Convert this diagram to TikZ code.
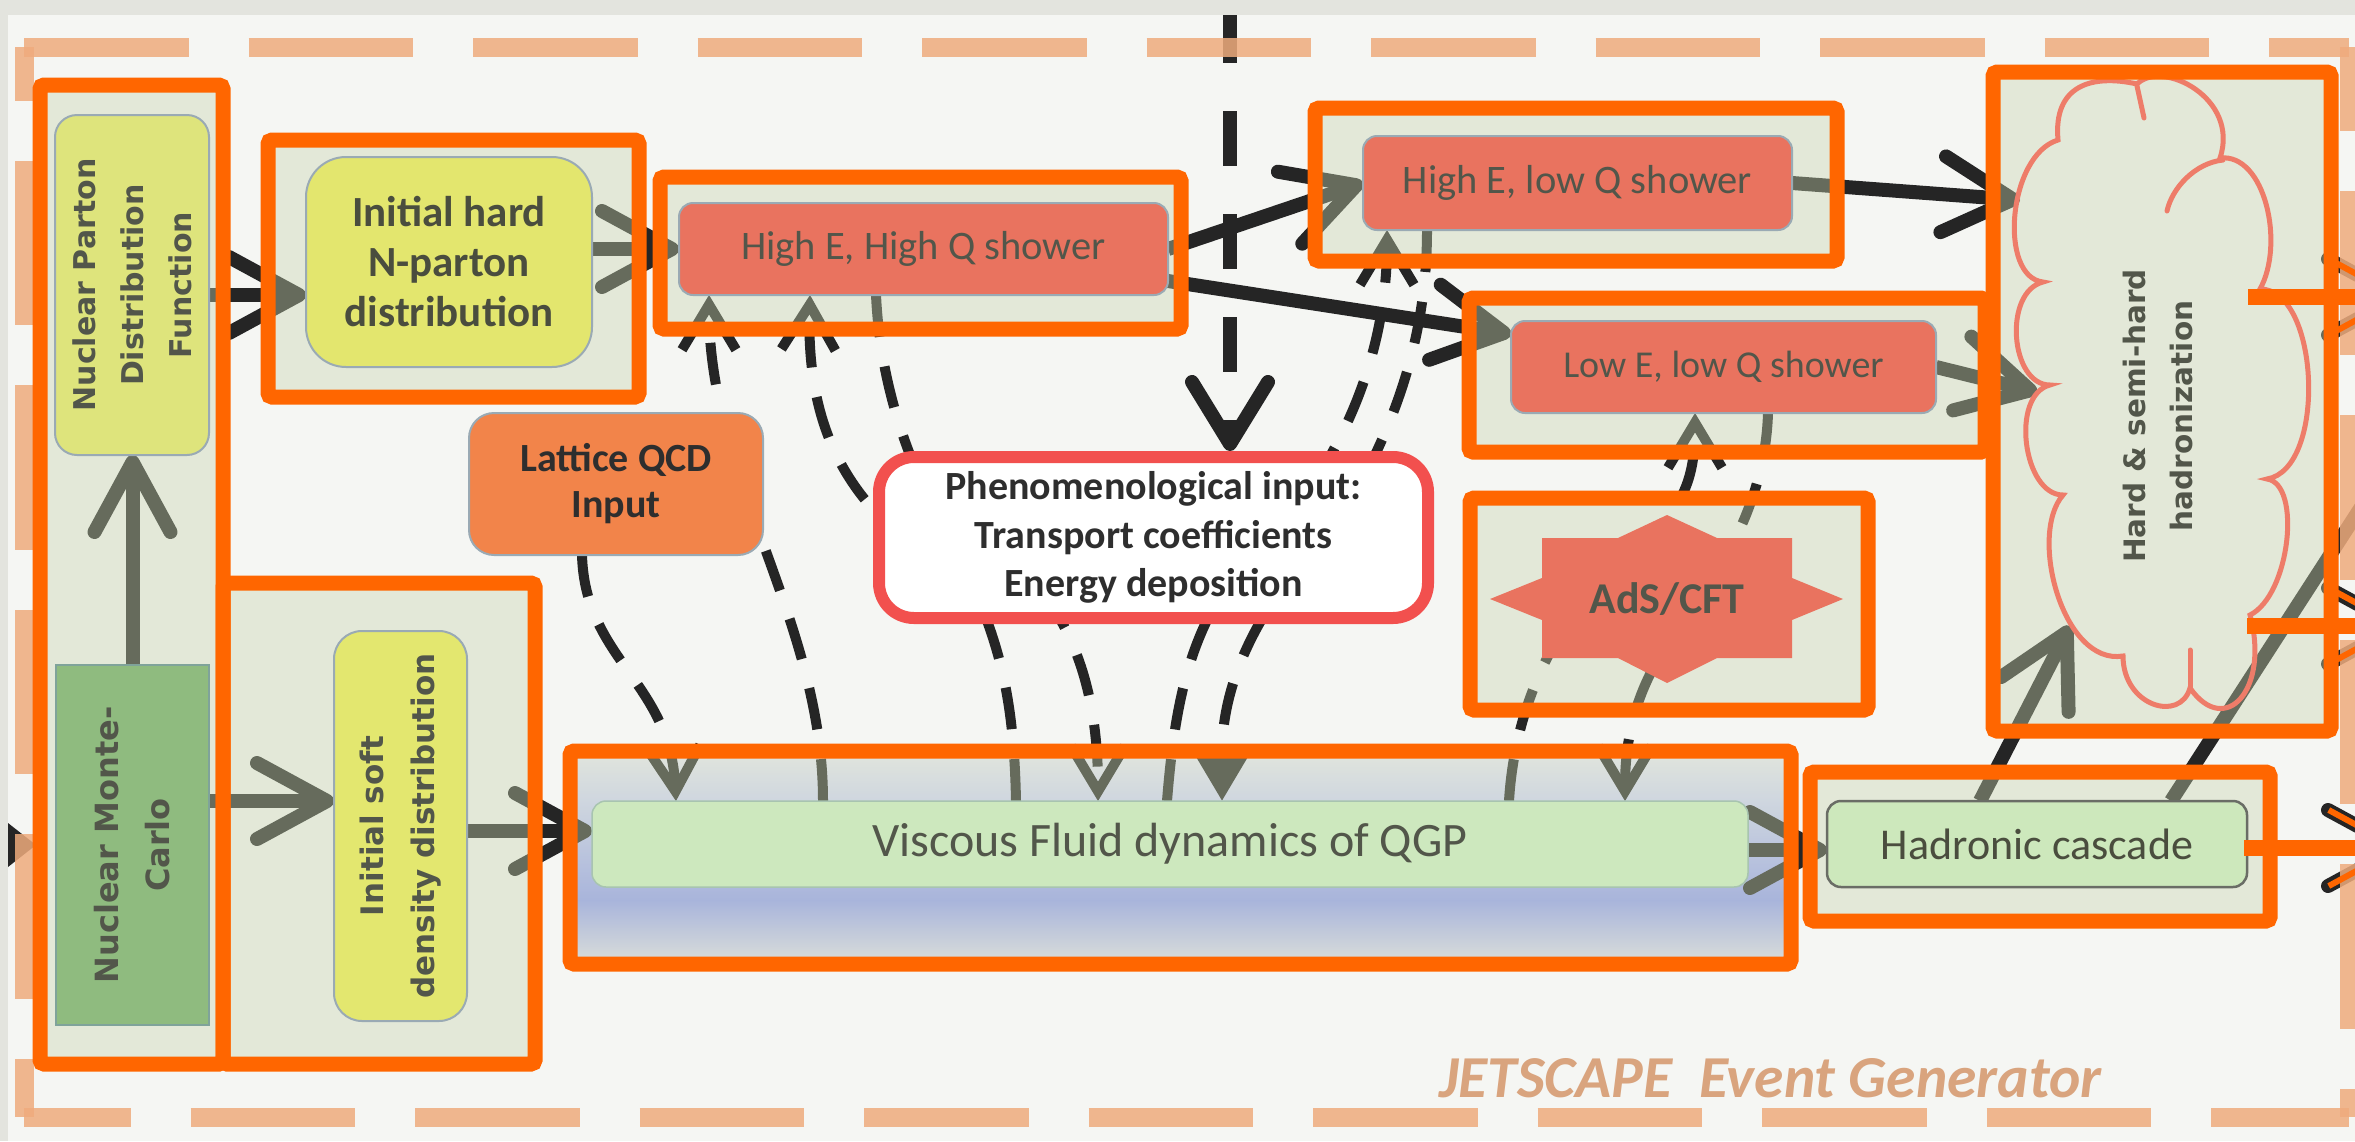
\documentclass[tikz,border=0pt]{standalone}
\usepackage{fontspec}
\setmainfont{Carlito}
\newfontfamily\verd{DejaVu Sans}
\usetikzlibrary{arrows.meta,calc}
\definecolor{bgc}{HTML}{F5F6F3}
\definecolor{stripc}{HTML}{E3E4DE}
\definecolor{peach}{HTML}{EFAB7D}
\definecolor{orng}{HTML}{FF6600}
\definecolor{modc}{HTML}{C8D4B0}
\definecolor{npdfc}{HTML}{DEE47C}
\definecolor{ihardc}{HTML}{E3E66E}
\definecolor{isoftc}{HTML}{E3E76F}
\definecolor{nmcc}{HTML}{8FBB7F}
\definecolor{nmcb}{HTML}{7FA39A}
\definecolor{lattc}{HTML}{F2844A}
\definecolor{salm}{HTML}{E9735F}
\definecolor{phenred}{HTML}{F2504E}
\definecolor{viscc}{HTML}{CDE8BE}
\definecolor{visb}{HTML}{A8C4B0}
\definecolor{hadc}{HTML}{CDE8BC}
\definecolor{hadb}{HTML}{6A6D66}
\definecolor{cloudc}{HTML}{EE7C69}
\definecolor{nodeb}{HTML}{9AAAB4}
\definecolor{txt}{HTML}{52564A}
\definecolor{txtb}{HTML}{4A4D3E}
\definecolor{txtd}{HTML}{2E2E2E}
\definecolor{jetc}{HTML}{D9A47E}
\definecolor{lnk}{HTML}{252525}
\definecolor{glB}{HTML}{E8E6F5}
\definecolor{glU}{HTML}{94A0F9}
\definecolor{glT}{HTML}{D6DAFF}
\definecolor{glTop}{HTML}{F3F1FA}
\pgfdeclareverticalshading{viscglow}{100bp}{color(0bp)=(glB); color(25bp)=(glB); color(40bp)=(glU); color(64bp)=(glT); color(75bp)=(glTop); color(100bp)=(glTop)}
\pgfdeclarelayer{bgl}
\pgfdeclarelayer{links}
\pgfdeclarelayer{peachl}
\pgfdeclarelayer{tintl}
\pgfdeclarelayer{topl}
\pgfsetlayers{bgl,links,peachl,tintl,main,topl}
\begin{document}
\begin{tikzpicture}[x=1pt,y=-1pt,
  every node/.style={inner sep=0pt,outer sep=0pt},
  sarr/.style={draw=lnk,line width=14pt,-{Straight Barb[length=70pt,width=76pt,round]}},
  sline/.style={draw=lnk,line width=14pt},
  dlink/.style={draw=lnk,line width=10pt,dash pattern=on 42pt off 30pt,-{Straight Barb[length=45pt,width=54pt]}},
  dlinkf/.style={draw=lnk,line width=10pt,dash pattern=on 42pt off 30pt,-{Triangle[length=50pt,width=56pt]}},
  bigdash/.style={draw=lnk,line width=14pt,dash pattern=on 55pt off 48pt,-{Straight Barb[length=62pt,width=76pt,round]}},
  modbox/.style={draw=orng,line width=15pt,rounded corners=4pt},
  modtint/.style={fill=modc,fill opacity=0.4},
  pdash/.style={draw=peach,line width=19pt,draw opacity=0.85,dash pattern=on 164.5pt off 60pt},
  rnode/.style={draw=nodeb,line width=2pt,align=center},
  cloudline/.style={draw=cloudc,line width=5pt,line cap=round},
]
\useasboundingbox (0,0) rectangle (2355,1141);
\begin{pgfonlayer}{bgl}
  \fill[bgc] (0,0) rectangle (2355,1141);
  \shade[shading=viscglow] (570,751) rectangle (1791,964);
\end{pgfonlayer}

% ---------- nodes ----------
\node[rnode,fill=npdfc,rounded corners=22pt,rotate=90,minimum width=340pt,minimum height=154pt,
  font=\verd\bfseries\fontsize{30}{48}\selectfont,text=txt] (npdf) at (132,285) {Nuclear Parton\\Distribution\\Function};
\node[draw=nmcb,line width=2pt,fill=nmcc,rotate=90,minimum width=360pt,minimum height=153pt,align=center,
  font=\verd\bfseries\fontsize{32}{51}\selectfont,text=txt] (nmc) at (132.5,845) {Nuclear Monte-\\Carlo};
\node[rnode,fill=ihardc,rounded corners=40pt,minimum width=286pt,minimum height=210pt,
  font=\bfseries\fontsize{43}{50}\selectfont,text=txtb] (ihard) at (449,262) {Initial hard\\N-parton\\distribution};
\node[rnode,fill=isoftc,rounded corners=28pt,rotate=90,minimum width=390pt,minimum height=133pt,
  font=\verd\bfseries\fontsize{31}{51}\selectfont,text=txt] (isoft) at (400.5,826) {Initial soft\\density distribution};
\node[rnode,fill=lattc,rounded corners=25pt,minimum width=294pt,minimum height=142pt,
  font=\bfseries\fontsize{40}{46}\selectfont,text=txtd] (lattice) at (616,484) {Lattice QCD\\Input};
\node[rnode,fill=salm,rounded corners=14pt,minimum width=489pt,minimum height=92pt,
  font=\fontsize{40.5}{48}\selectfont,text=txt] (hehq) at (923.5,249) {High E, High Q shower};
\node[rnode,fill=salm,rounded corners=14pt,minimum width=429pt,minimum height=94pt,
  font=\fontsize{40.5}{48}\selectfont,text=txt] (helq) at (1577.5,183) {High E, low Q shower};
\node[rnode,fill=salm,rounded corners=14pt,minimum width=425pt,minimum height=92pt,
  font=\fontsize{38}{46}\selectfont,text=txt] (lelq) at (1723.5,367) {Low E, low Q shower};
\node[draw=phenred,line width=12pt,fill=white,rounded corners=35pt,minimum width=549pt,minimum height=161pt,align=center,
  font=\bfseries\fontsize{40}{48.5}\selectfont,text=txtd] (phen) at (1153.5,537.5) {Phenomenological input:\\Transport coefficients\\Energy deposition};
\fill[salm] (1843,599) -- (1792,578) -- (1792,538) -- (1717,538) -- (1667,515) -- (1618,538) -- (1542,538) -- (1542,578)
  -- (1490,599) -- (1542,620) -- (1542,658) -- (1618,658) -- (1667,683) -- (1717,658) -- (1792,658) -- (1792,620) -- cycle;
\node[font=\bfseries\fontsize{44}{50}\selectfont,text=txt] (ads) at (1667,599) {AdS/CFT};
\node[draw=visb,line width=1.5pt,fill=viscc,rounded corners=14pt,minimum width=1156pt,minimum height=86pt,
  font=\fontsize{48}{56}\selectfont,text=txt] (visc) at (1170,844) {Viscous Fluid dynamics of QGP};
\node[draw=hadb,line width=2.5pt,fill=hadc,rounded corners=14pt,minimum width=420pt,minimum height=86pt,
  font=\fontsize{44}{50}\selectfont,text=txtb] (hadr) at (2037,844) {Hadronic cascade};

% cloud (hadronization)
\draw[cloudline,line join=miter]
  (2058,140) .. controls (2053,85) and (2092,74) .. (2137,84)
  .. controls (2162,59) and (2240,98) .. (2220,158)
  .. controls (2265,153) and (2285,244) .. (2260,289)
  .. controls (2320,289) and (2327,469) .. (2267,479)
  .. controls (2302,484) and (2290,595) .. (2250,615)
  .. controls (2270,690) and (2225,738) .. (2190,688)
  .. controls (2180,723) and (2123,706) .. (2123,656)
  .. controls (2063,666) and (2028,535) .. (2063,495)
  .. controls (2023,495) and (2010,395) .. (2050,385)
  .. controls (2010,385) and (2003,292) .. (2043,282)
  .. controls (1998,277) and (2008,155) .. (2058,140) -- cycle;
\draw[cloudline] (2223,160) .. controls (2195,163) and (2172,188) .. (2167,211);
\draw[cloudline] (2137,86) -- (2144,118);
\draw[cloudline] (2190,688) -- (2190,650);
\node[rotate=90,align=center,font=\verd\bfseries\fontsize{29.5}{47}\selectfont,text=txt] (cloud) at (2158,416) {Hard \& semi-hard\\hadronization};

\coordinate (offr1) at (2385,470);
\coordinate (offr2) at (2405,848);
\coordinate (offr3) at (2405,297);
\coordinate (offr4) at (2405,626);
\coordinate (topin) at (1230,8);

% ---------- connectors ----------
\begin{pgfonlayer}{links}
  \draw[sarr] ($(npdf.south)+(0,10)$) -- ($(npdf.south -| ihard.west)+(0,10)$);
  \draw[sarr] (ihard.east |- hehq.west) -- (hehq.west);
  \draw[sarr] (nmc.east) -- (nmc.east |- npdf.west);
  \draw[sarr] ($(nmc.south)+(0,-44)$) -- ($(nmc.south -| isoft.north)+(0,-44)$);
  \draw[sarr] ($(isoft.south)+(0,5)$) -- ($(isoft.south -| visc.west)+(0,5)$);
  \draw[sarr] (hehq.east) -- (helq.west);
  \draw[sarr] ($(hehq.east)+(0,32)$) -- ($(lelq.west)+(0,-33)$);
  \draw[sarr] (helq.east) -- ($(cloud.center)+(-138,-216)$);
  \draw[sarr] (lelq.east) -- ($(cloud.center)+(-121,-24)$);
  \draw[sarr] ($(visc.east)+(0,6)$) -- ($(hadr.west)+(0,6)$);
  \draw[sarr] ($(hadr.north)+(-57,0)$) -- ($(cloud.center)+(-88,210)$);
  \draw[sline] ($(hadr.north)+(134,0)$) -- (offr1);
  \draw[sarr] ($(hadr.east)+(0,4)$) -- (offr2);
  \draw[sarr] ($(cloud.center)+(140,-119)$) -- (offr3);
  \draw[sarr] ($(cloud.center)+(140,210)$) -- (offr4);
  \fill[lnk] (8,823) -- (36,845) -- (8,867) -- cycle;
  % dashed exchange links
  \draw[bigdash] (topin) -- ($(phen.north)+(76.5,-6)$);
  \draw[dlink] ($(lattice.south)+(-34,0)$) .. controls +(3,105) and +(-6,-120) .. ($(visc.north)+(-494,0)$);
  \draw[dlink] ($(visc.north)+(-347,0)$) .. controls +(0,-181) and +(0,185) .. ($(hehq.south)+(-214.5,0)$);
  \draw[dlink] ($(visc.north)+(-154,0)$) .. controls +(-2,-101) and +(25,60) .. ($(phen.center)+(-178.5,52.5)$)
     .. controls +(-95,-60) and +(-5,172) .. ($(hehq.south)+(-113.5,0)$);
  \draw[dlink] ($(hehq.south)+(-47.5,0)$) .. controls +(4,85) and +(-25,-50) .. ($(phen.center)+(-223.5,-37.5)$)
     .. controls +(110,60) and +(0,-161) .. ($(visc.north)+(-72,0)$);
  \draw[dlink] ($(visc.north)+(-3,0)$) .. controls +(8,-101) and +(-40,60) .. ($(phen.center)+(76.5,42.5)$)
     .. controls +(90,-80) and +(0,150) .. ($(helq.south)+(-190.5,0)$);
  \draw[dlinkf] ($(helq.south)+(-150.5,0)$) .. controls +(0,100) and +(60,-100) .. ($(phen.center)+(186.5,-17.5)$)
     .. controls +(-80,80) and +(0,-121) .. ($(visc.north)+(52,0)$);
  \draw[dlink] ($(visc.north)+(339,0)$) .. controls +(6,-101) and +(-50,50) .. ($(ads.center)+(-57,-29)$)
     .. controls +(60,-50) and +(0,87) .. ($(lelq.south)+(-28.5,0)$);
  \draw[dlink] ($(lelq.south)+(44.5,0)$) .. controls +(-2,67) and +(40,-60) .. ($(ads.center)+(33,1)$)
     .. controls +(-40,50) and +(0,-101) .. ($(visc.north)+(455,0)$);
\end{pgfonlayer}

% ---------- outer dashed frame ----------
\begin{pgfonlayer}{peachl}
  \draw[pdash] (24,47) -- (2349,47);
  \draw[pdash,dash phase=111pt] (24,47) -- (24,1117);
  \draw[pdash,dash phase=58pt] (24,1117) -- (2349,1117);
  \draw[pdash,dash phase=81pt] (2349,47) -- (2349,1117);
\end{pgfonlayer}

% ---------- module tints ----------
\begin{pgfonlayer}{tintl}
  \foreach \a/\b/\c/\d in {40/85/223/1064,268/140/639/397,660/177/1181/329,1315/108/1837/261,1469/298/1985/452,
      1993/72/2331/731,1470/498/1868/710,223/583/535/1064,570/751/1791/964,1810/772/2270/921}
    {\fill[modtint] (\a,\b) rectangle (\c,\d);}
\end{pgfonlayer}

% ---------- annotations ----------
\begin{pgfonlayer}{topl}
  \foreach \a/\b/\c/\d in {40/85/223/1064,268/140/639/397,660/177/1181/329,1315/108/1837/261,1469/298/1985/452,
      1993/72/2331/731,1470/498/1868/710,223/583/535/1064,570/751/1791/964,1810/772/2270/921}
    {\draw[modbox] (\a,\b) rectangle (\c,\d);}
  \draw[orng,line width=16pt] ($(cloud.center)+(90,-119)$) -- (offr3);
  \draw[orng,line width=16pt] ($(cloud.center)+(89,210)$) -- (offr4);
  \draw[orng,line width=16pt] ($(hadr.east)+(-3,4)$) -- (offr2);
  \draw[orng,line width=6pt,-{Straight Barb[length=70pt,width=76pt]}] ($(offr3)+(-90,0)$) -- (offr3);
  \draw[orng,line width=6pt,-{Straight Barb[length=70pt,width=76pt]}] ($(offr4)+(-90,0)$) -- (offr4);
  \draw[orng,line width=6pt,-{Straight Barb[length=70pt,width=76pt]}] ($(offr2)+(-90,0)$) -- (offr2);
  \fill[stripc] (0,0) rectangle (2355,15);
  \fill[stripc] (0,0) rectangle (8,1141);
  \node[anchor=base west,font=\bfseries\itshape\fontsize{59.5}{64}\selectfont,text=jetc] (jlabel) at (1439,1097) {JETSCAPE\ \ Event Generator};
\end{pgfonlayer}
\end{tikzpicture}
\end{document}
